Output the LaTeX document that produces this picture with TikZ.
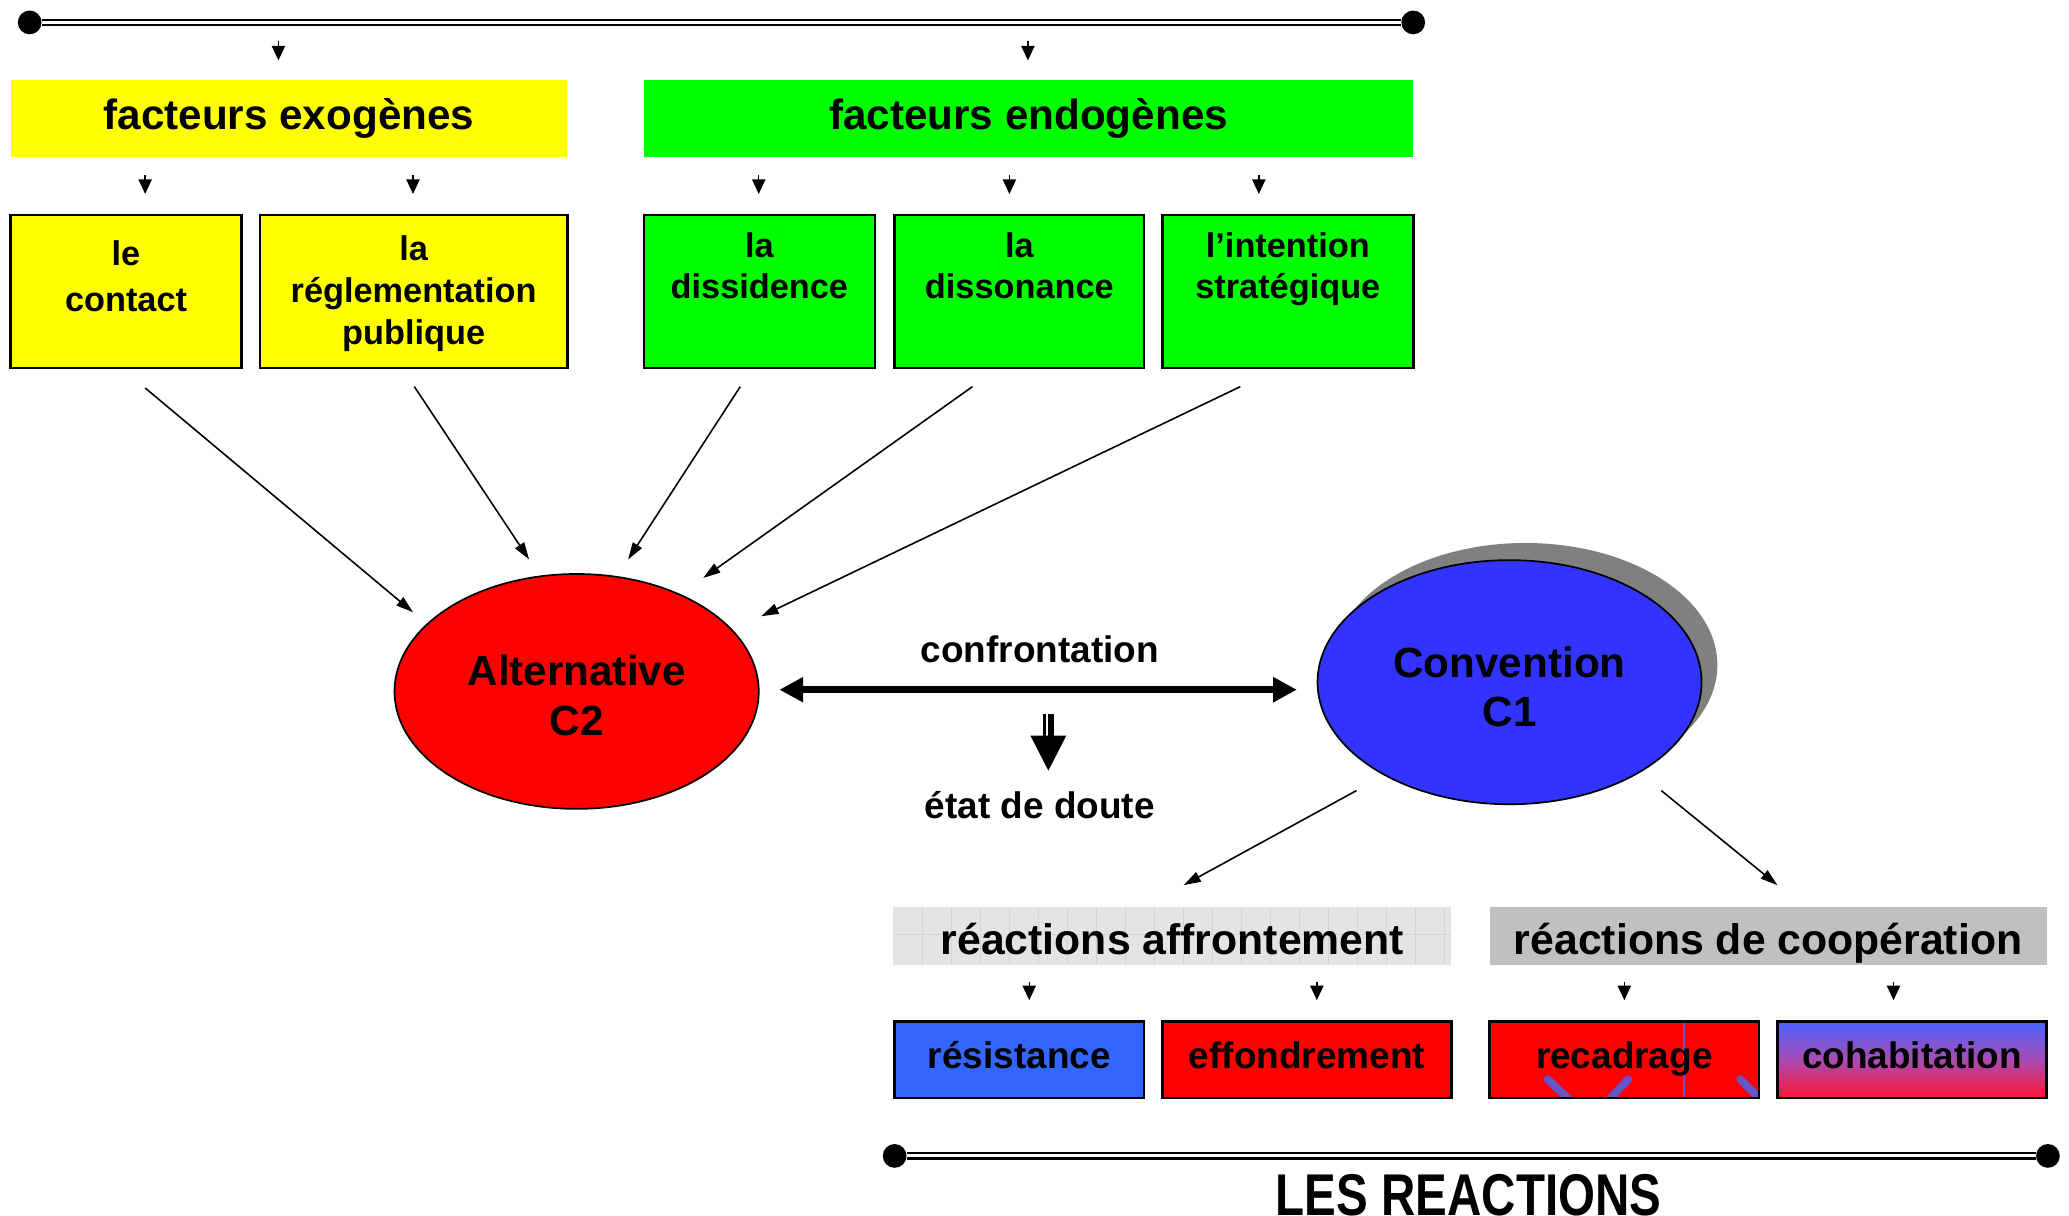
\documentclass[tikz,border=0pt]{standalone}
\usepackage{fontspec}
\setmainfont{Liberation Sans}
\usetikzlibrary{arrows.meta,shapes.geometric,shadows,calc}

\definecolor{cyellow}{RGB}{255,255,0}
\definecolor{cgreen}{RGB}{0,255,0}
\definecolor{cred}{RGB}{255,0,0}
\definecolor{cblue}{RGB}{51,51,255}
\definecolor{cresist}{RGB}{51,102,255}
\definecolor{cshadow}{RGB}{128,128,128}
\definecolor{caffr}{RGB}{228,228,228}
\definecolor{caffrgrid}{RGB}{212,212,212}
\definecolor{ccoop}{RGB}{192,192,192}
\definecolor{cstroke}{RGB}{100,85,200}
\definecolor{cohtop}{RGB}{70,100,255}
\definecolor{cohmid}{RGB}{170,75,180}
\definecolor{cohbot}{RGB}{252,20,50}

\newcommand\bfs[2]{\fontsize{#1}{#2}\selectfont\bfseries}

\begin{document}
\begin{tikzpicture}[x=1pt,y=-1pt,
  header/.style={rectangle, inner sep=0pt, minimum height=58pt,
    text height=23.4pt, text depth=6.7pt, font=\bfs{32}{38}},
  factbox/.style={rectangle, draw=black, line width=2pt, minimum height=116pt, inner sep=0pt},
  factlbl/.style={anchor=north, align=center, inner sep=0pt, font=\bfs{26}{31}},
  reachead/.style={rectangle, inner sep=0pt, minimum height=44pt,
    text height=28pt, text depth=0pt, font=\bfs{32.4}{38}},
  reacbox/.style={rectangle, draw=black, line width=2pt, minimum height=58pt, inner sep=0pt,
    text height=26pt, text depth=12pt, font=\bfs{28}{34}},
  lbl/.style={anchor=base, inner sep=0pt, font=\bfs{28}{34}},
  ovaltext/.style={align=center, inner sep=0pt},
  bar/.style={draw=black, line width=1.8pt, double=white, double distance=2.3pt},
  barend/.style={circle, fill=black, inner sep=0pt, minimum size=18pt},
  feed/.style={-{Triangle[width=10pt,length=11pt]}, line width=1.1pt},
  conn/.style={-{Triangle[width=8pt,length=13pt]}, line width=1.2pt},
  bigarrow/.style={{Triangle[width=18pt,length=18pt]}-{Triangle[width=18pt,length=18pt]}, line width=5.6pt},
  oval/.style={ellipse, draw=black, line width=1.3pt, inner sep=0pt}
]
\useasboundingbox (0,0) rectangle (1568,921);

% ---- top bar ----
\node[barend] (topL) at (22.5,17) {};
\node[barend] (topR) at (1071,17) {};
\draw[bar] (topL) -- (topR);

% ---- factor headers ----
\node[header, fill=cyellow, minimum width=422pt] (exo) at (219,90) {facteurs exogènes};
\node[header, fill=cgreen, minimum width=583pt] (endo) at (779.5,90) {facteurs endogènes};

\coordinate (fExo) at (211,31);
\coordinate (fEndo) at (779,31);
\draw[feed, shorten >=15pt] (fExo) -- (fExo |- exo.north);
\draw[feed, shorten >=15pt] (fEndo) -- (fEndo |- endo.north);

% ---- factor boxes ----
\node[factbox, fill=cyellow, minimum width=175pt] (contact) at (95.5,221) {};
\node[factbox, fill=cyellow, minimum width=233pt] (regl) at (313.5,221) {};
\node[factbox, fill=cgreen, minimum width=175pt] (dissid) at (575.5,221) {};
\node[factbox, fill=cgreen, minimum width=189pt] (disson) at (772.5,221) {};
\node[factbox, fill=cgreen, minimum width=190pt] (intent) at (976,221) {};

\node[factlbl, font=\bfs{26}{35}] (contactT) at (95.5,182.4) {le\\contact};
\node[factlbl, font=\bfs{26}{32}] (reglT) at (313.5,178.4) {la\\réglementation\\publique};
\node[factlbl, font=\bfs{26}{30.8}] (dissidT) at (575.5,176) {la\\dissidence};
\node[factlbl, font=\bfs{26}{30.8}] (dissonT) at (772.5,176) {la\\dissonance};
\node[factlbl, font=\bfs{26}{30.8}] (intentT) at (976,176) {l’intention\\stratégique};

\coordinate (fContact) at (110,133);
\coordinate (fRegl) at (313,133);
\coordinate (fDissid) at (575,133);
\coordinate (fDisson) at (765,133);
\coordinate (fIntent) at (954,133);
\draw[feed, shorten >=15pt] (fContact) -- (fContact |- contact.north);
\draw[feed, shorten >=15pt] (fRegl) -- (fRegl |- regl.north);
\draw[feed, shorten >=15pt] (fDissid) -- (fDissid |- dissid.north);
\draw[feed, shorten >=15pt] (fDisson) -- (fDisson |- disson.north);
\draw[feed, shorten >=15pt] (fIntent) -- (fIntent |- intent.north);

% ---- the two conventions ----
\node[oval, fill=cred, minimum width=276pt, minimum height=178pt] (alt) at (437,524) {};
\node[ovaltext, font=\bfs{32}{38}] (altT) at ([yshift=-3pt]alt.center) {Alternative\\C2};
\node[oval, fill=cblue, minimum width=291pt, minimum height=185pt,
  general shadow={fill=cshadow, shadow xshift=12pt, shadow yshift=13pt}]
  (conv) at (1144,517) {};
\node[ovaltext, font=\bfs{32}{37}] (convT) at ([yshift=-3.5pt]conv.center) {Convention\\C1};

% inputs converging on the alternative
\coordinate (inA) at (313,464);
\coordinate (inB) at (401,424);
\coordinate (inC) at (476,424);
\coordinate (inD) at (533,438);
\coordinate (inE) at (577,467);
\draw[conn] ([xshift=14.5pt,yshift=-14pt]contact.south) -- (inA);
\draw[conn] ([xshift=0.5pt,yshift=-13pt]regl.south) -- (inB);
\draw[conn] ([xshift=-14.5pt,yshift=-13pt]dissid.south) -- (inC);
\draw[conn] ([xshift=-35.5pt,yshift=-13pt]disson.south) -- (inD);
\draw[conn] ([xshift=-36pt,yshift=-13pt]intent.south) -- (inE);

% confrontation
\draw[bigarrow] ([xshift=15pt,yshift=1.3pt]alt.east) -- ([xshift=-15pt,yshift=1.3pt]alt.east -| conv.west);
\node[lbl] (confr) at (788,502) {confrontation};

% doubled shaft and head pointing to the state of doubt
\coordinate (dTop) at (794.5,541);
\coordinate (dTip) at (794.5,584);
\fill ($(dTop)+(-4.3,0)$) rectangle ($(dTop)+(4.3,18)$);
\draw[white, line width=1.5pt] ($(dTop)+(-0.8,0)$) -- ($(dTop)+(-0.8,16.5)$);
\fill (dTip) -- ++(-13.6,-26.5) -- ++(27.2,0) -- cycle;
\node[lbl] (doute) at (788,620) {état de doute};

% ---- reactions ----
\node[reachead, fill=caffr, minimum width=423pt,
  path picture={
    \foreach \gx in {1,...,19}
      \draw[caffrgrid, line width=0.8pt]
        ($(path picture bounding box.north west)+(\gx*22,0)$) -- ++(0,44);
    \draw[caffrgrid, line width=0.8pt]
      ($(path picture bounding box.north west)+(0,21)$) -- ++(423,0);
  }] (affr) at (888.5,709) {réactions affrontement};
\node[reachead, fill=ccoop, minimum width=422pt] (coop) at (1340,709) {réactions de coopération};

\draw[conn] ($(conv.south)+(-116,-11)$) -- ($(affr.north)+(8.5,-16)$);
\draw[conn] ($(conv.south)+(115,-11)$) -- ($(coop.north)+(7,-16)$);

\node[reacbox, fill=cresist, minimum width=189pt] (resist) at (772.5,803) {résistance};
\node[reacbox, fill=cred, minimum width=219pt] (effond) at (990.5,803) {effondrement};
\node[reacbox, fill=cred, minimum width=204pt,
  path picture={
    \coordinate (rcNW) at (path picture bounding box.north west);
    \draw[cstroke, line width=1.6pt] ($(rcNW)+(147,0)$) -- ++(0,60);
    \draw[cstroke, line width=6pt, line cap=round] ($(rcNW)+(44,44)$) -- ($(rcNW)+(63,62)$);
    \draw[cstroke, line width=6pt, line cap=round] ($(rcNW)+(105,44)$) -- ($(rcNW)+(88,62)$);
    \draw[cstroke, line width=6pt, line cap=round] ($(rcNW)+(190,44)$) -- ($(rcNW)+(208,62)$);
  }] (recad) at (1231,803) {recadrage};
\node[reacbox, top color=cohtop, bottom color=cohbot, middle color=cohmid, minimum width=204pt]
  (cohab) at (1449,803) {cohabitation};

\coordinate (fResist) at (780,744);
\coordinate (fEffond) at (998,744);
\coordinate (fRecad) at (1231,744);
\coordinate (fCohab) at (1435,744);
\draw[feed, shorten >=15pt] (fResist) -- (fResist |- resist.north);
\draw[feed, shorten >=15pt] (fEffond) -- (fEffond |- effond.north);
\draw[feed, shorten >=15pt] (fRecad) -- (fRecad |- recad.north);
\draw[feed, shorten >=15pt] (fCohab) -- (fCohab |- cohab.north);

% ---- bottom bar ----
\node[barend] (botL) at (678,876) {};
\node[barend] (botR) at (1552,876) {};
\draw[bar] (botL) -- (botR);
\node[lbl, font=\bfs{36}{40}] (lesreac) at (1113,921) {\scalebox{1}[1.24]{LES REACTIONS}};
\end{tikzpicture}
\end{document}
